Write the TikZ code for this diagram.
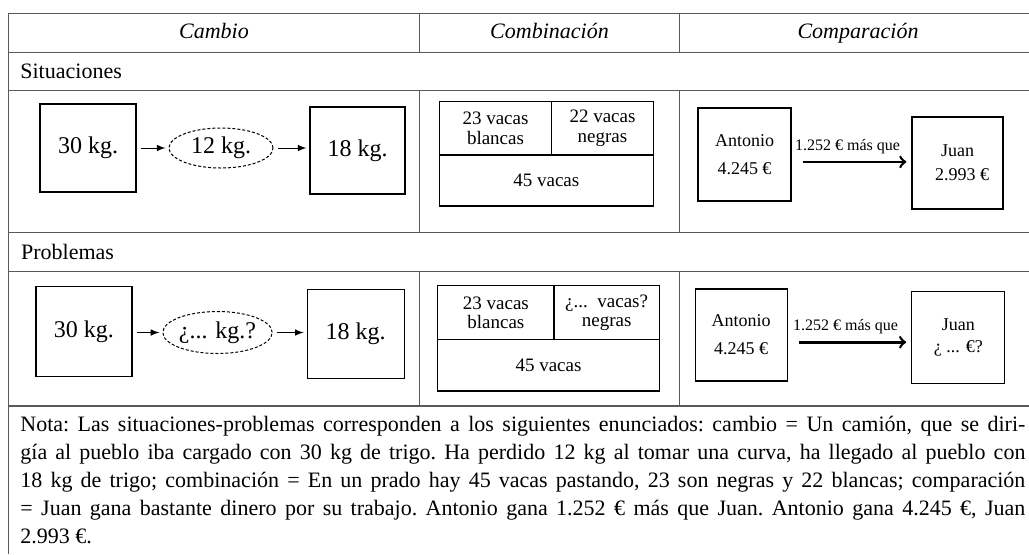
\documentclass[tikz,border=0pt]{standalone}
\usepackage{fontspec}
\setmainfont{Liberation Serif}
\usetikzlibrary{arrows,shapes.geometric}

\begin{document}
\begin{tikzpicture}[
        x = 0.5pt, y = -0.5pt,
        rejilla/.style = {draw = black!65, line width = 0.6pt},
        caja/.style = {
            draw, rectangle,
            line width = 0.6pt,
            align = center,
            inner sep = 0pt,
        },
        kilos/.style = {caja, font = \fontsize{12}{14}\selectfont},
        nube/.style = {
            draw, ellipse,
            dash pattern = on 1.5pt off 1pt,
            line width = 0.5pt,
            inner sep = 0pt,
            font = \fontsize{12}{14}\selectfont,
        },
        celda/.style = {caja, font = \fontsize{9.5}{9.7}\selectfont},
        persona/.style = {caja, font = \fontsize{9}{14}\selectfont},
        titulo/.style = {anchor = base, inner sep = 0pt, font = \fontsize{11}{13}\selectfont\itshape},
        fila/.style = {anchor = west, inner sep = 0pt, font = \fontsize{11}{13}\selectfont},
        paso/.style = {-latex, line width = 0.5pt, shorten <= 2pt, shorten >= 1.5pt},
        ventaja/.style = {->, line width = 1.3pt, shorten <= 5.5pt, shorten >= 2.5pt},
        ]

        % Tabla
        \useasboundingbox (0,0) rectangle (1029,554);
        \draw[rejilla] (1029,13.3) -- (8.5,13.3) -- (8.5,554);
        \foreach \y in {52.3, 90.7, 232.7, 271.5, 406}
            \draw[rejilla] (8.5,\y) -- (1029,\y);
        \foreach \x in {419.5, 679.5} {
            \draw[rejilla] (\x,13.3) -- (\x,52.3);
            \draw[rejilla] (\x,90.7) -- (\x,232.7);
            \draw[rejilla] (\x,271.5) -- (\x,406);
        }

        \node[titulo] (cambio) at (214,38.5) {Cambio};
        \node[titulo] (combinacion) at (549.5,38.5) {Combinación};
        \node[titulo] (comparacion) at (858,38.5) {Comparación};
        \node[fila] (situaciones) at (20,71.5) {Situaciones};
        \node[fila] (problemas) at (20.7,252) {Problemas};

        % Cambio
        \node[kilos, minimum width = 48pt, minimum height = 44pt] (treintaA) at (88,148) {30 kg.};
        \node[nube, minimum width = 52pt, minimum height = 20pt] (perdidaA) at (221,148) {12 kg.};
        \node[kilos, minimum width = 47.5pt, minimum height = 43.5pt] (dieciochoA) at (357.5,150.5) {18 kg.};

        \node[kilos, minimum width = 48pt, minimum height = 45pt] (treintaB) at (84,331.7) {30 kg.};
        \node[nube, minimum width = 49pt, minimum height = 21pt] (perdidaB) at (217.5,332.5) {¿... kg.?};
        \node[kilos, minimum width = 48.5pt, minimum height = 44.5pt] (dieciochoB) at (355.7,333.8) {18 kg.};

        \draw[paso] (treintaA) -- (perdidaA);
        \draw[paso] (perdidaA.east) -- (perdidaA.east -| dieciochoA.west);
        \draw[paso] (treintaB.east |- perdidaB.west) -- (perdidaB.west);
        \draw[paso] (perdidaB.east) -- (perdidaB.east -| dieciochoB.west);

        % Combinacion
        \node[celda, minimum width = 56.2pt, minimum height = 26.65pt] (blancasA) at (495.5,128.35) {23 vacas\\blancas};
        \node[celda, minimum width = 50.8pt, minimum height = 26.65pt] (negrasA) at (602.5,128.35) {22 vacas\\negras};
        \node[celda, minimum width = 107pt, minimum height = 25.5pt] (totalA) at (546.3,180.5) {45 vacas};

        \node[celda, minimum width = 58.15pt, minimum height = 26.8pt] (blancasB) at (495.85,312.5) {23 vacas\\blancas};
        \node[celda, minimum width = 52.65pt, minimum height = 26.8pt] (negrasB) at (606.65,312.5) {¿...\ \ vacas?\\negras};
        \node[celda, minimum width = 110.8pt, minimum height = 25.85pt] (totalB) at (548.5,365.15) {45 vacas};

        % Comparacion
        \node[persona, minimum width = 46.5pt, minimum height = 46.5pt] (antonioA) at (744.5,154.5) {Antonio\\4.245 €};
        \node[persona, minimum width = 45.5pt, minimum height = 46pt] (juanA) at (957.5,163) {Juan\\[-2pt]\ \ 2.993 €};

        \node[persona, minimum width = 46pt, minimum height = 46pt] (antonioB) at (741.2,335) {Antonio\\4.245 €};
        \node[persona, minimum width = 46.5pt, minimum height = 46pt] (juanB) at (958.3,337.5) {Juan\\[-3pt]¿ ... €?};

        \draw[ventaja] ([yshift=-3.7pt]antonioA.east) -- ([yshift=-3.7pt]antonioA.east -| juanA.west)
            node[midway, above = 0pt, xshift = -2pt, font = \fontsize{8}{9}\selectfont] {1.252 € más que};
        \draw[ventaja] ([yshift=-3.6pt]antonioB.east) -- ([yshift=-3.6pt]antonioB.east -| juanB.west)
            node[midway, above = 0pt, xshift = -2pt, font = \fontsize{8}{9}\selectfont] {1.252 € más que};

        % Nota
        \node[anchor = north west, inner sep = 0pt, text width = 502.5pt, align = justify,
            font = \fontsize{11}{14}\selectfont\frenchspacing] (nota) at (20,416)
            {Nota: Las situaciones-problemas corresponden a los siguientes enunciados: cambio = Un camión, que se diri-\linebreak
            gía al pueblo iba cargado con 30 kg de trigo. Ha perdido 12 kg al tomar una curva, ha llegado al pueblo con\linebreak
            18 kg de trigo; combinación = En un prado hay 45 vacas pastando, 23 son negras y 22 blancas; comparación\linebreak
            = Juan gana bastante dinero por su trabajo. Antonio gana 1.252 € más que Juan. Antonio gana 4.245 €, Juan\linebreak
            2.993 €.};
\end{tikzpicture}
\end{document}
